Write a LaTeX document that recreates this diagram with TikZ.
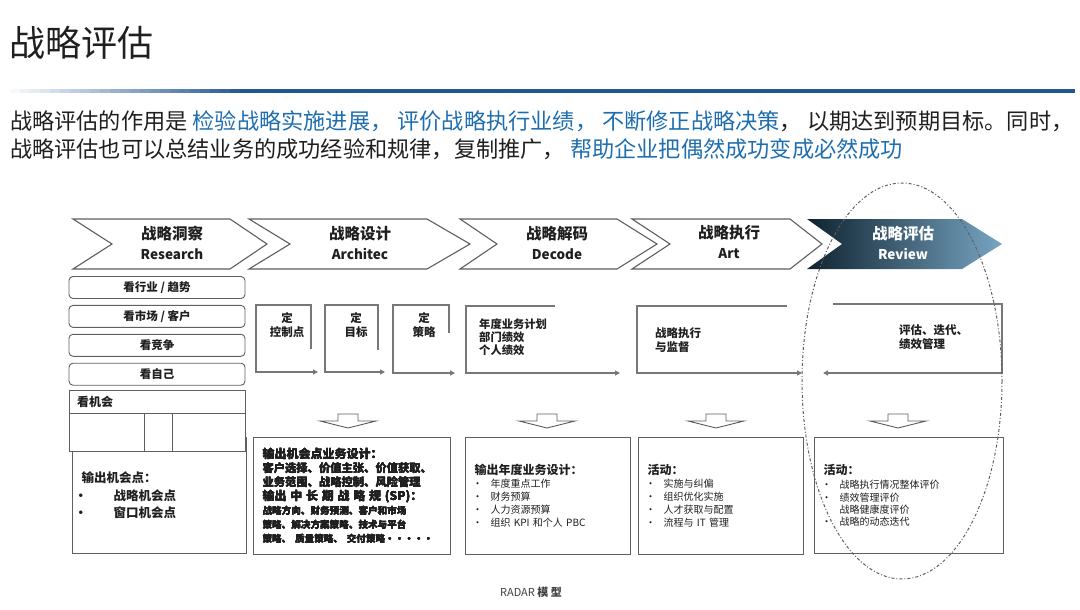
\documentclass[tikz,border=0pt]{standalone}
\usepackage{fontspec}
\setmainfont{Noto Sans CJK SC}
\usepackage{xcolor}
\definecolor{radarblue}{RGB}{30,110,175}
\definecolor{radarline}{RGB}{35,85,145}
\definecolor{radargray}{RGB}{95,95,95}
\definecolor{reviewdark}{RGB}{15,35,48}
\definecolor{reviewmid}{RGB}{30,58,76}
\definecolor{reviewlight}{RGB}{120,165,195}
\usepackage{tikz}
\usetikzlibrary{positioning,arrows.meta,calc}
\newcommand{\itm}[1]{\makebox[16pt][l]{\hspace*{-2pt}•}#1}
\newcommand{\hollowdown}[1]{%
  \draw[radargray, fill=white, line width=0.9pt] (#1-10,414) -- (#1+10,414) -- (#1+10,421) -- (#1+28,421)
    -- (#1,428) -- (#1-28,421) -- (#1-10,421) -- cycle;}

\begin{document}
\begin{tikzpicture}[x=1pt, y=-1pt,
  every node/.style={inner sep=0pt, text=black!88},
  phase/.style={align=center, font=\bfseries\fontsize{13.5}{20}\selectfont},
  phasebox/.style={draw=radargray, line width=1.1pt, fill=white},
  look/.style={draw=radargray, line width=0.9pt, rounded corners=4pt, minimum width=176pt, minimum height=22pt,
    font=\bfseries\fontsize{11.5}{13}\selectfont},
  outbox/.style={draw=radargray, line width=1pt, inner xsep=9pt, align=left, anchor=north west},
  stepline/.style={draw=radargray!85, line width=1.1pt, -{Triangle[length=5pt,width=5pt]}},
  steptext/.style={font=\bfseries\fontsize{11.5}{14}\selectfont, align=left},
  node distance=6pt]
  \useasboundingbox (0,0) rectangle (1080,610);

  % heading
  \node[anchor=west, font=\fontsize{36}{42}\selectfont] (title) at (9,43) {战略评估};
  \foreach \i [evaluate=\i as \pc using int(\i*4.2)] in {0,...,23}
    \fill[radarline!\pc] (\i*10,89) rectangle (\i*10+10.5,93);
  \fill[radarline] (240,89) rectangle (1075,93);
  \node[anchor=west, font=\fontsize{22.2}{26}\selectfont] (lead1) at (10,121)
    {战略评估的作用是 \textcolor{radarblue}{检验战略实施进展， 评价战略执行业绩， 不断修正战略决策}， 以期达到预期目标。同时，};
  \node[anchor=west, font=\fontsize{22.2}{26}\selectfont] (lead2) at (10,149)
    {战略评估也可以总结业务的成功经验和规律，复制推广， \textcolor{radarblue}{帮助企业把偶然成功变成必然成功}};

  % phases
  \foreach \xa/\xb/\xc/\xd in {73/112/230/267, 249/290/427/470, 460/497/617/657, 632/670/790/822}
    \draw[phasebox] (\xa,219) -- (\xc,219) -- (\xd,244) -- (\xc,269) -- (\xa,269) -- (\xb,244) -- cycle;
  \path[left color=reviewdark, middle color=reviewmid, right color=reviewlight]
    (807,219) -- (962,219) -- (1002,244) -- (962,269) -- (807,269) -- (842,244) -- cycle;
  \node[phase] (research) at (172,243) {{\fontsize{15.5}{20}\selectfont 战略洞察}\\Research};
  \node[phase] (architec) at (360,243) {{\fontsize{15.5}{20}\selectfont 战略设计}\\Architec};
  \node[phase] (decode) at (557,243) {{\fontsize{15.5}{20}\selectfont 战略解码}\\Decode};
  \node[phase] (art) at (729,242) {{\fontsize{15.5}{20}\selectfont 战略执行}\\Art};
  \node[phase, text=white] (review) at (903,243) {{\fontsize{15.5}{20}\selectfont 战略评估}\\Review};

  % research column
  \node[look] (trend) at (157,287.5) {看行业 / 趋势};
  \node[look, below=of trend] (market) {看市场 / 客户};
  \node[look, below=of market] (rival) {看竞争};
  \node[look, below=of rival] (self) {看自己};
  \node[outbox, minimum width=174pt, minimum height=116pt, text width=156pt,
    font=\bfseries\fontsize{12.5}{17.5}\selectfont] (oppout) at (72,437)
    {输出机会点：\\\makebox[32pt][l]{\hspace*{-7pt}•}战略机会点\\\makebox[32pt][l]{\hspace*{-7pt}•}窗口机会点};
  \draw[radargray, line width=1pt, fill=white] (69,390) rectangle (245,451);
  \draw[radargray, line width=1pt] (69,413) -- (245,413) (144,413) -- (144,451) (172,413) -- (172,451);
  \node[anchor=west, font=\bfseries\fontsize{12}{14}\selectfont] (chance) at (77,402) {看机会};

  % steps
  \draw[stepline] (311,349) -- (311,305) -- (256,305) -- (256,372) -- (318,372);
  \draw[stepline] (378,350) -- (378,305) -- (325,305) -- (325,372) -- (385,372);
  \draw[stepline] (449,333) -- (449,305) -- (393,305) -- (393,373) -- (455,373);
  \draw[stepline] (555,306) -- (466,306) -- (466,373) -- (620,373);
  \draw[stepline] (787,306) -- (637,306) -- (637,373) -- (802,373);
  \draw[stepline] (833,304) -- (1002,304) -- (1002,373) -- (823,373);
  \node[steptext, align=center] (ctrl) at (287,325) {定\\控制点};
  \node[steptext, align=center] (goal) at (356,325) {定\\目标};
  \node[steptext, align=center] (tactic) at (424,325) {定\\策略};
  \node[steptext, anchor=north west, font=\bfseries\fontsize{11.3}{13}\selectfont] (plan) at (479,319) {年度业务计划\\部门绩效\\个人绩效};
  \node[steptext, anchor=west] (monitor) at (655,340) {战略执行\\与监督};
  \node[steptext, anchor=west] (iterate) at (899,337) {评估、迭代、\\绩效管理};

  % outputs
  \foreach \cx in {348,547,716,898} \hollowdown{\cx}
  \node[outbox, minimum width=197pt, minimum height=117pt, text width=179pt,
    font=\bfseries\fontsize{11.3}{14}\selectfont] (designout) at (253,437)
    {{\fontsize{12}{14}\selectfont 输出机会点业务设计：}\\客户选择、价值主张、价值获取、\\业务范围、战略控制、风险管理\\
     {\fontsize{12}{14}\selectfont 输出 中 长 期 战 略 规 (SP)：}\\
     {\fontsize{9.6}{13.5}\selectfont 战略方向、财务预测、客户和市场}\\
     {\fontsize{9.6}{13.5}\selectfont 策略、解决方案策略、技术与平台}\\
     {\fontsize{9.6}{13.5}\selectfont 策略、 质量策略、 交付策略·····}};
  \node[outbox, minimum width=165pt, minimum height=117pt, text width=147pt,
    font=\fontsize{10}{13}\selectfont] (yearout) at (465,437)
    {{\bfseries\fontsize{12}{14}\selectfont 输出年度业务设计：}\\\itm{年度重点工作}\\\itm{财务预算}\\\itm{人力资源预算}\\\itm{组织 KPI 和个人 PBC}};
  \node[outbox, minimum width=165pt, minimum height=117pt, text width=147pt,
    font=\fontsize{10}{13}\selectfont] (artout) at (638,437)
    {{\bfseries\fontsize{12}{14}\selectfont 活动：}\\\itm{实施与纠偏}\\\itm{组织优化实施}\\\itm{人才获取与配置}\\\itm{流程与 IT 管理}};
  \node[outbox, minimum width=189pt, minimum height=116pt, text width=171pt,
    font=\fontsize{10}{12.3}\selectfont] (reviewout) at (814,437)
    {{\bfseries\fontsize{12}{14}\selectfont 活动：}\\[2pt]\itm{战略执行情况整体评价}\\\itm{绩效管理评价}\\\hspace*{16pt}战略健康度评价\\\itm{战略的动态迭代}};

  \node[font=\fontsize{11}{13}\selectfont, text=black!75] (radar) at (531,592) {RADAR \textbf{模 型}};
  \draw[radargray, line width=1pt, dash dot] (902,381) ellipse [x radius=100, y radius=198];
\end{tikzpicture}
\end{document}
